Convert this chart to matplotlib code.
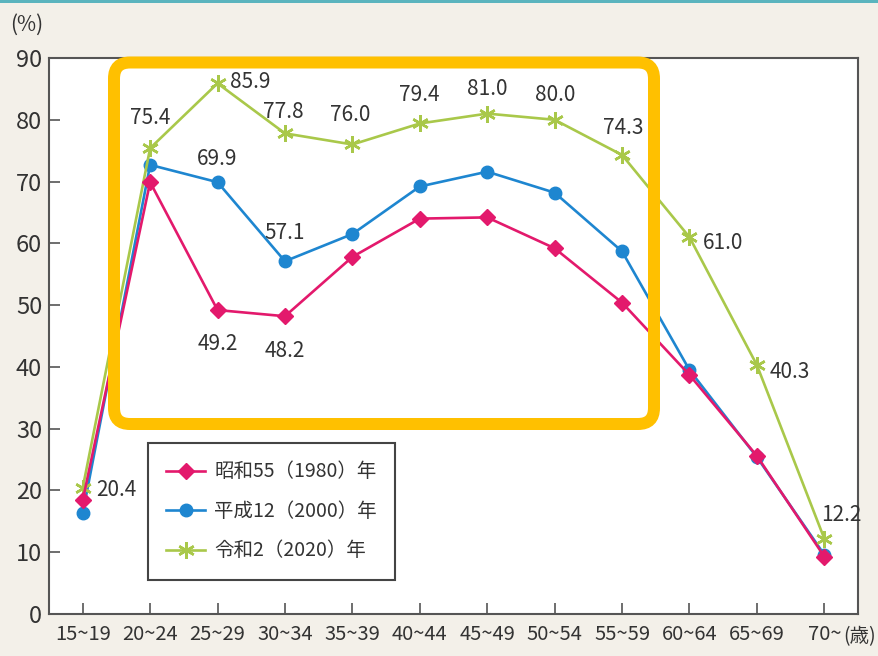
import matplotlib
matplotlib.use("Agg")
import matplotlib.pyplot as plt
from matplotlib.patches import FancyBboxPatch, Rectangle
from matplotlib.transforms import IdentityTransform

plt.rcParams['font.family'] = ['Noto Sans CJK JP', 'DejaVu Sans']

# 年齢階級別 就業率 (%)
age_groups = ["15~19", "20~24", "25~29", "30~34", "35~39", "40~44",
              "45~49", "50~54", "55~59", "60~64", "65~69", "70~"]
rate_1980 = [18.4, 69.9, 49.2, 48.2, 57.8, 64.0, 64.2, 59.2, 50.4, 38.7, 25.6, 9.3]
rate_2000 = [16.3, 72.7, 69.9, 57.1, 61.5, 69.2, 71.6, 68.2, 58.7, 39.5, 25.4, 9.6]
rate_2020 = [20.4, 75.4, 85.9, 77.8, 76.0, 79.4, 81.0, 80.0, 74.3, 61.0, 40.3, 12.2]
series_names = ["昭和55（1980）年", "平成12（2000）年", "令和2（2020）年"]

PINK = '#E3196C'
BLUE = '#1E86D0'
GREEN = '#A9C84A'
TEXT = '#333333'
AXIS = '#555555'

fig = plt.figure(figsize=(8.79, 6.56), dpi=100, facecolor='#F3F0E9')
ax = fig.add_axes([49 / 879, 42 / 656, 809 / 879, 556 / 656])
ax.set_facecolor('white')

x = list(range(len(age_groups)))
ax.plot(x, rate_1980, color=PINK, lw=1.9, marker='D', ms=8, mec=PINK, label=series_names[0], zorder=4)
ax.plot(x, rate_2000, color=BLUE, lw=1.9, marker='o', ms=9, mec=BLUE, label=series_names[1], zorder=3)
ax.plot(x, rate_2020, color=GREEN, lw=1.9, marker=(6, 2, 0), ms=12, mew=1.8, mec=GREEN,
        label=series_names[2], zorder=3)

ax.set_xlim(-0.5, 11.5)
ax.set_ylim(0, 90)
ax.set_xticks(x)
ax.set_xticklabels(age_groups)
ax.set_yticks(range(0, 91, 10))
ax.tick_params(axis='both', direction='in', length=8, width=1.2, color=AXIS, labelcolor=TEXT)
ax.tick_params(axis='y', labelsize=17, pad=5)
ax.tick_params(axis='x', labelsize=14.5, pad=7)
for sp in ax.spines.values():
    sp.set_color(AXIS)
    sp.set_linewidth(1.5)

# value labels: (series, index, dx, dy, ha) with offsets in pixels
labels = [
    (rate_2020, 0, 13, -2, 'left'),
    (rate_2020, 1, 0, 30, 'center'),
    (rate_2020, 2, 12, 1, 'left'),
    (rate_2020, 3, -2, 21, 'center'),
    (rate_2020, 4, -2, 29, 'center'),
    (rate_2020, 5, -1, 28, 'center'),
    (rate_2020, 6, 0, 25, 'center'),
    (rate_2020, 7, 1, 25, 'center'),
    (rate_2020, 8, 1, 27, 'center'),
    (rate_2020, 9, 13, -6, 'left'),
    (rate_2020, 10, 13, -7, 'left'),
    (rate_2020, 11, -3, 24, 'left'),
    (rate_2000, 2, 0, 23, 'center'),
    (rate_2000, 3, 0, 28, 'center'),
    (rate_1980, 2, 0, -34, 'center'),
    (rate_1980, 3, 0, -35, 'center'),
]
for series, i, dx, dy, ha in labels:
    ax.annotate(f"{series[i]:.1f}", (i, series[i]), xytext=(dx, dy),
                textcoords='offset pixels', ha=ha, va='center',
                fontsize=15, color=TEXT, zorder=6)

leg = ax.legend(loc='upper left', bbox_to_anchor=(148 / 879, 1 - 443 / 656),
                bbox_transform=fig.transFigure, frameon=True, fancybox=False,
                fontsize=14, handlelength=2.0, handletextpad=0.45,
                labelspacing=0.95, borderpad=0.95, borderaxespad=0)
leg.get_frame().set_edgecolor('#444444')
leg.get_frame().set_linewidth(1.5)
leg.get_frame().set_alpha(1)
for t in leg.get_texts():
    t.set_color(TEXT)

fig.text(27 / 879, 1 - 25 / 656, "(%)", fontsize=15, color=TEXT, ha='center', va='center')
fig.text(843 / 879, 1 - 637 / 656, "(歳)", fontsize=14, color=TEXT, ha='left', va='center')

# highlight frame around the 20s-50s range
box = FancyBboxPatch((114, 232), 540, 361.5, boxstyle="round,pad=0,rounding_size=16",
                     transform=IdentityTransform(), fill=False, ec='#FFC000',
                     lw=12 * 0.72, zorder=10)
fig.add_artist(box)

fig.add_artist(Rectangle((0, 1 - 3 / 656), 1, 3 / 656, transform=fig.transFigure,
                         color='#5AB4BE', lw=0))

fig.savefig("out.png", dpi=100, facecolor=fig.get_facecolor())
